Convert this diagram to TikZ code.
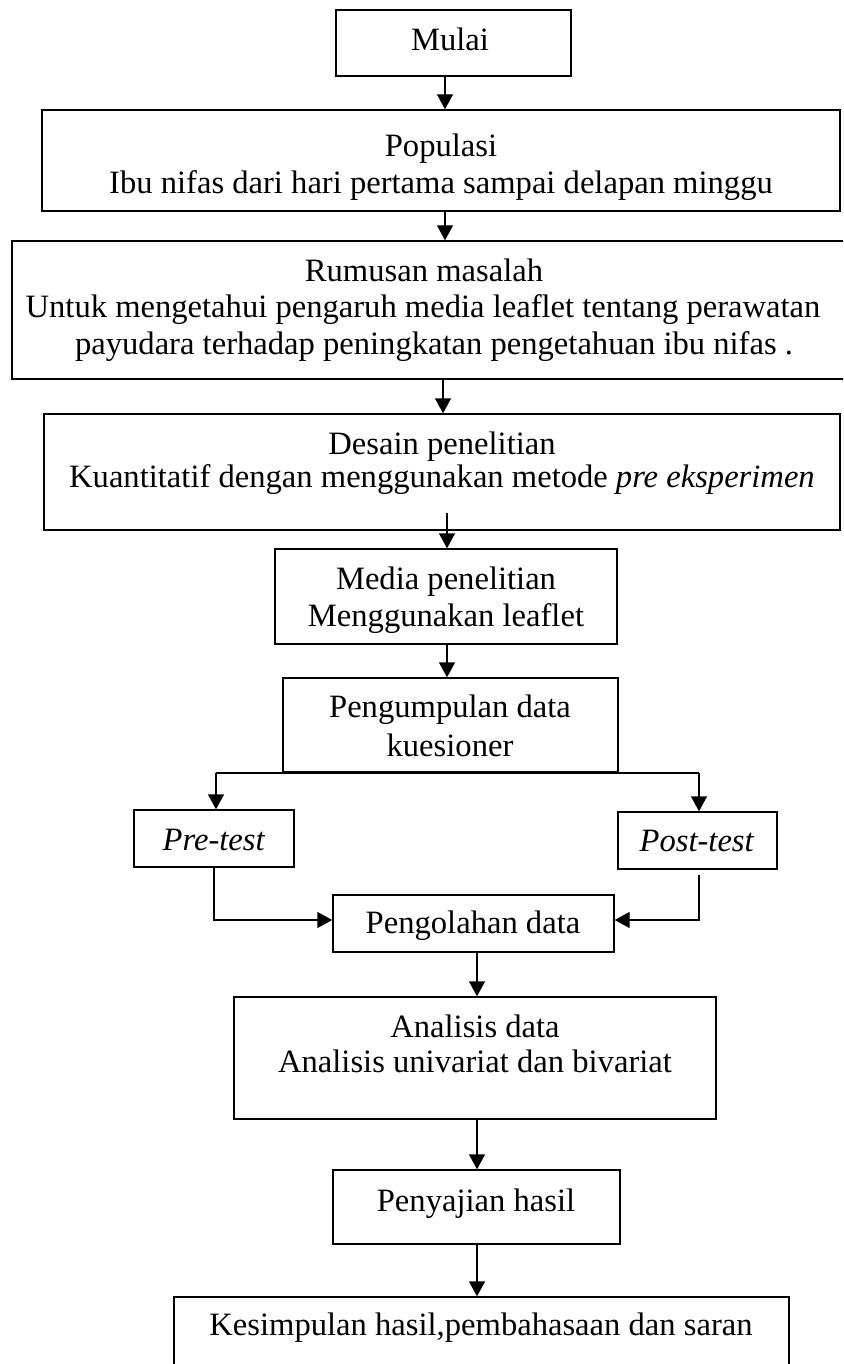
\documentclass[tikz,border=0pt]{standalone}
\usepackage{fontspec}
\setmainfont{Liberation Serif}
\usetikzlibrary{arrows.meta,fit}
\begin{document}
\begin{tikzpicture}[x=0.5pt,y=-0.5pt,
  box/.style={draw=black, line width=0.7pt, inner sep=0pt},
  txt/.style={anchor=base, inner sep=0pt, font=\fontsize{16.3pt}{19pt}\selectfont},
  arr/.style={draw=black, line width=0.7pt, -{Triangle[length=7.5pt,width=8pt]}},
  ln/.style={draw=black, line width=0.9pt}]
\useasboundingbox (0,0) rectangle (843,1364);
\fill[white] (0,0) rectangle (843,1364);
\clip (0,0) rectangle (843,1364);

% columns for connectors
\coordinate (cA) at (445,0);
\coordinate (cB) at (443,0);
\coordinate (cC) at (447,0);
\coordinate (cD) at (477,0);
\coordinate (cL) at (216,0);
\coordinate (cR) at (699,0);
\coordinate (cP) at (214,0);
\coordinate (cY) at (0,920);

% boxes
\node[box, fit={(336,10)(571,76)}] (mulai) {};
\node[box, fit={(42,110)(840,211)}] (pop) {};
\node[box, fit={(12,241)(870,379)}] (rum) {};
\node[box, fit={(44,414)(840,530)}] (des) {};
\node[box, fit={(275,549)(617,644)}] (media) {};
\node[box, fit={(283,678)(618,772)}] (kump) {};
\node[box, fit={(134,810)(294,867)}] (pre) {};
\node[box, fit={(618,812)(777,869)}] (post) {};
\node[box, fit={(333,895)(614,952)}] (olah) {};
\node[box, fit={(234,997)(716,1119)}] (anal) {};
\node[box, fit={(333,1170)(620,1244)}] (saji) {};
\node[box, fit={(174,1297)(789,1400)}] (simp) {};

% texts
\node[txt] (tMulai) at (450,51) {Mulai};
\node[txt] (tPopA) at (441,157) {Populasi};
\node[txt] (tPopB) at (441,194) {Ibu nifas dari hari pertama sampai delapan minggu};
\node[txt] (tRumA) at (424,281) {Rumusan masalah};
\node[txt] (tRumB) at (423,317) {Untuk mengetahui pengaruh media leaflet tentang perawatan};
\node[txt] (tRumC) at (434,354) {payudara terhadap peningkatan pengetahuan ibu nifas .};
\node[txt] (tDesA) at (442,454) {Desain penelitian};
\node[txt] (tDesB) at (442,487) {Kuantitatif dengan menggunakan metode \textit{pre eksperimen}};
\node[txt] (tMedA) at (446,589) {Media penelitian};
\node[txt] (tMedB) at (446,626) {Menggunakan leaflet};
\node[txt] (tKumA) at (450,717) {Pengumpulan data};
\node[txt] (tKumB) at (450,756) {kuesioner};
\node[txt] (tPre) at (214,850) {\textit{Pre-test}};
\node[txt] (tPost) at (697,851) {\textit{Post-test}};
\node[txt] (tOlah) at (473,933) {Pengolahan data};
\node[txt] (tAnaA) at (475,1037) {Analisis data};
\node[txt] (tAnaB) at (475,1072) {Analisis univariat dan bivariat};
\node[txt] (tSaji) at (476,1211) {Penyajian hasil};
\node[txt] (tSimp) at (481,1335) {Kesimpulan hasil,pembahasaan dan saran};

% connectors
\draw[arr] (mulai.south -| cA) -- (pop.north -| cA);
\draw[arr] (pop.south -| cA) -- (rum.north -| cA);
\draw[arr] (rum.south -| cB) -- (des.north -| cB);
\draw[arr] ([yshift=9pt]des.south -| cC) -- (media.north -| cC);
\draw[arr] (media.south -| cC) -- (kump.north -| cC);
\draw[ln] (kump.south -| cL) -- (kump.south -| cR);
\draw[arr] (kump.south -| cL) -- (pre.north -| cL);
\draw[arr] (kump.south -| cR) -- (post.north -| cR);
\draw[arr] (pre.south -| cP) |- (olah.west |- cY);
\draw[arr] ([yshift=-2.5pt]post.south -| cR) |- (olah.east |- cY);
\draw[arr] (olah.south -| cD) -- (anal.north -| cD);
\draw[arr] (anal.south -| cD) -- (saji.north -| cD);
\draw[arr] (saji.south -| cD) -- (simp.north -| cD);
\end{tikzpicture}
\end{document}
